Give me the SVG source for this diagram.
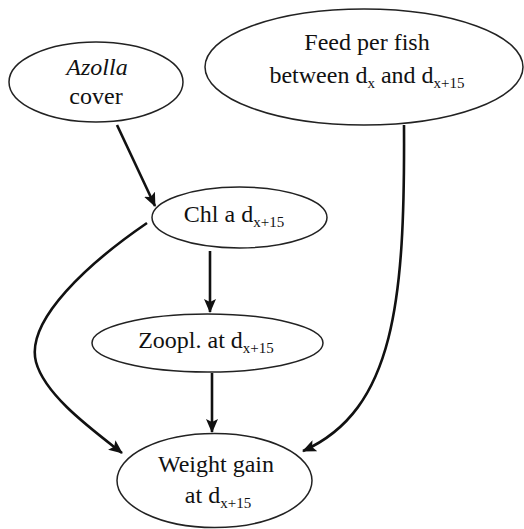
<svg xmlns="http://www.w3.org/2000/svg" width="524" height="529" viewBox="0 0 524 529">
<style>
.node ellipse { fill: #ffffff; stroke: #222222; stroke-width: 1.5; }
.node text { font-family: 'Liberation Serif', 'Times New Roman', serif; font-size: 24px; fill: #111111; text-anchor: middle; }
.sub { font-size: 15px; }
.edge { fill: none; stroke: #111111; stroke-width: 2.6; marker-end: url(#arrow); }
</style>
<defs>
<marker id="arrow" markerUnits="userSpaceOnUse" markerWidth="14" markerHeight="12" refX="13" refY="6" orient="auto">
<path d="M0,0 L14,6 L0,12 L3,6 z" fill="#111111"/>
</marker>
</defs>
<rect x="0" y="0" width="524" height="529" fill="#ffffff"/>
<g id="connectors">
<path class="edge" d="M117,125 L155,206"/>
<path class="edge" d="M210,251 L210,312"/>
<path class="edge" d="M212,373 L212,432"/>
<path class="edge" d="M147,223 C90,262 25,320 36,362 C45,395 90,428 122,453"/>
<path class="edge" d="M404,125 C405,300 395,410 303,451"/>
</g>
<g id="azolla" class="node">
<ellipse cx="96" cy="82" rx="87" ry="40"/>
<text x="97" y="75" font-style="italic">Azolla</text>
<text x="96" y="104">cover</text>
</g>
<g id="feed" class="node">
<ellipse cx="364" cy="67" rx="159" ry="58"/>
<text x="367" y="50">Feed per fish</text>
<text x="367" y="83">between d<tspan class="sub" dy="5">x</tspan><tspan dy="-5"> and d</tspan><tspan class="sub" dy="5">x+15</tspan></text>
</g>
<g id="chla" class="node">
<ellipse cx="239.5" cy="217.5" rx="87.5" ry="30.5"/>
<text x="234" y="222">Chl a d<tspan class="sub" dy="5">x+15</tspan></text>
</g>
<g id="zoopl" class="node">
<ellipse cx="207.5" cy="343" rx="115.5" ry="29"/>
<text x="206" y="348">Zoopl. at d<tspan class="sub" dy="5">x+15</tspan></text>
</g>
<g id="weight" class="node">
<ellipse cx="214.5" cy="480.5" rx="97.5" ry="47"/>
<text x="216" y="472">Weight gain</text>
<text x="218" y="503">at d<tspan class="sub" dy="5">x+15</tspan></text>
</g>
</svg>
